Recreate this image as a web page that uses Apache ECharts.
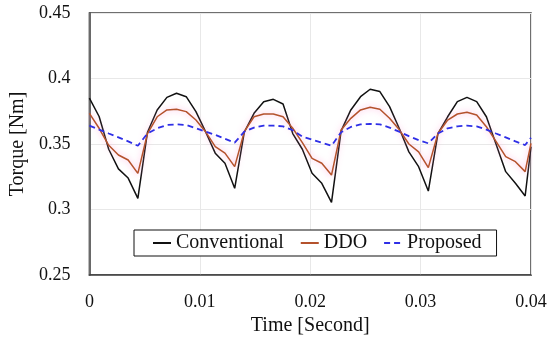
<!DOCTYPE html>
<html>
<head>
<meta charset="utf-8">
<script src="https://cdn.jsdelivr.net/npm/echarts@6/dist/echarts.min.js"></script>
<style>html,body{margin:0;padding:0;background:#fff}#chart{width:550px;height:345px}</style>
</head>
<body>
<div id="chart"></div>
<script>
var times = [0, 0.00088, 0.00175, 0.00263, 0.00351, 0.00439, 0.00526, 0.00614, 0.00702, 0.00789,
  0.00877, 0.00965, 0.01052, 0.0114, 0.01228, 0.01316, 0.01403, 0.01491, 0.01579, 0.01666,
  0.01754, 0.01842, 0.01929, 0.02017, 0.02105, 0.02193, 0.0228, 0.02368, 0.02456, 0.02543,
  0.02631, 0.02719, 0.02806, 0.02894, 0.02982, 0.0307, 0.03157, 0.03245, 0.03333, 0.0342,
  0.03508, 0.03596, 0.03683, 0.03771, 0.03859, 0.03947, 0.04];
var conventional = [0.385, 0.371, 0.346, 0.331, 0.324, 0.3085, 0.359, 0.376, 0.3856, 0.3887,
  0.3861, 0.3747, 0.3594, 0.343, 0.3353, 0.3162, 0.359, 0.3734, 0.3823, 0.3841,
  0.3805, 0.358, 0.346, 0.3276, 0.320, 0.3055, 0.360, 0.376, 0.3861, 0.3918,
  0.390, 0.3785, 0.362, 0.344, 0.3327, 0.3141, 0.358, 0.3708, 0.3823, 0.3856,
  0.3823, 0.3708, 0.350, 0.3289, 0.320, 0.3103, 0.348];
var ddo = [0.3734, 0.362, 0.349, 0.3416, 0.3378, 0.3276, 0.358, 0.3708, 0.376, 0.3765,
  0.3747, 0.3683, 0.3594, 0.348, 0.343, 0.3327, 0.3594, 0.3708, 0.3729, 0.3729,
  0.3708, 0.362, 0.351, 0.339, 0.3353, 0.3263, 0.3607, 0.3696, 0.376, 0.378,
  0.3765, 0.3696, 0.361, 0.350, 0.344, 0.332, 0.358, 0.3683, 0.3729, 0.3742,
  0.3722, 0.3632, 0.352, 0.3403, 0.3365, 0.3289, 0.3505];
var proposed = [0.364, 0.361, 0.358, 0.355, 0.352, 0.3487, 0.358, 0.362, 0.3645, 0.365,
  0.3645, 0.362, 0.3594, 0.357, 0.354, 0.351, 0.3594, 0.3625, 0.364, 0.364,
  0.3635, 0.3605, 0.3556, 0.3533, 0.351, 0.3487, 0.359, 0.363, 0.365, 0.3653,
  0.365, 0.3625, 0.3594, 0.356, 0.353, 0.3505, 0.358, 0.362, 0.3635, 0.364,
  0.3635, 0.361, 0.358, 0.355, 0.352, 0.3492, 0.3548];
var seriesNames = ['Conventional', 'DDO', 'Proposed'];

function pairs(vals) { return vals.map(function (v, i) { return [times[i], v]; }); }

var font = 'Liberation Serif';
var chart = echarts.init(document.getElementById('chart'), null, {renderer: 'canvas'});
chart.setOption({
  animation: false,
  backgroundColor: '#fff',
  grid: {left: 87, right: 19, top: 13, bottom: 70, show: true, borderColor: '#404040', borderWidth: 1.5, backgroundColor: 'transparent'},
  legend: {
    data: seriesNames,
    left: 134, top: 230,
    padding: [3, 15, 3, 18],
    itemGap: 16, itemWidth: 18, itemHeight: 10,
    itemStyle: {opacity: 0},
    borderColor: '#111', borderWidth: 1, backgroundColor: '#fff',
    textStyle: {fontFamily: font, fontSize: 20, color: '#111'}
  },
  xAxis: {
    type: 'value', min: 0, max: 0.04, interval: 0.01,
    name: 'Time [Second]', nameLocation: 'middle', nameGap: 37,
    nameTextStyle: {fontFamily: font, fontSize: 20, color: '#111'},
    axisLine: {show: true, lineStyle: {color: '#404040', width: 1.5}},
    axisTick: {show: false},
    axisLabel: {fontFamily: font, fontSize: 18, color: '#111', margin: 18},
    splitLine: {show: true, lineStyle: {color: '#e8e8e8', width: 1}}
  },
  yAxis: {
    type: 'value', min: 0.25, max: 0.45, interval: 0.05,
    name: 'Torque [Nm]', nameLocation: 'middle', nameGap: 60,
    nameTextStyle: {fontFamily: font, fontSize: 20, color: '#111'},
    axisLine: {show: true, lineStyle: {color: '#404040', width: 1.5}},
    axisTick: {show: false},
    axisLabel: {fontFamily: font, fontSize: 18, color: '#111', margin: 19},
    splitLine: {show: true, lineStyle: {color: '#e8e8e8', width: 1}}
  },
  series: [
    {name: seriesNames[0], type: 'line', data: pairs(conventional), symbol: 'none', z: 3,
      lineStyle: {color: '#111', width: 1.5}, itemStyle: {color: '#111'}},
    {name: seriesNames[1], type: 'line', data: pairs(ddo), symbol: 'none', z: 4,
      lineStyle: {color: '#b4522c', width: 1.5, shadowColor: 'rgba(255,150,210,0.8)', shadowBlur: 6},
      itemStyle: {color: '#d0583a'}},
    {name: seriesNames[2], type: 'line', data: pairs(proposed), symbol: 'none', z: 5,
      lineStyle: {color: '#2f2fe6', width: 1.8, type: [6, 4]}, itemStyle: {color: '#2f2fe6'}}
  ]
});
</script>
</body>
</html>
